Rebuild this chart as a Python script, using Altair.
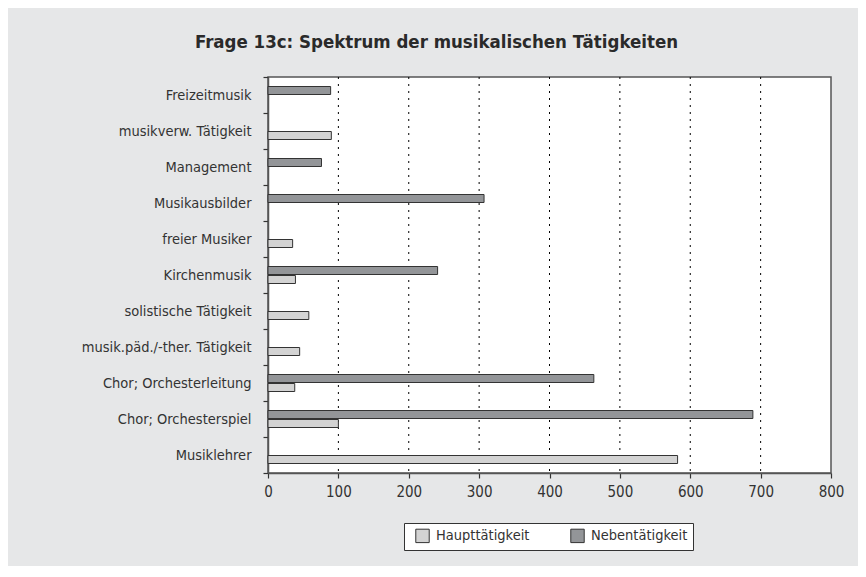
import altair as alt
import pandas as pd

categories = [
    "Freizeitmusik",
    "musikverw. Tätigkeit",
    "Management",
    "Musikausbilder",
    "freier Musiker",
    "Kirchenmusik",
    "solistische Tätigkeit",
    "musik.päd./-ther. Tätigkeit",
    "Chor; Orchesterleitung",
    "Chor; Orchesterspiel",
    "Musiklehrer",
]
haupt = [None, 90, None, None, 35, 39, 58, 45, 38, 100, 582]
neben = [89, None, 76, 307, None, 241, None, None, 463, 689, None]
series = ["Haupttätigkeit", "Nebentätigkeit"]
x_ticks = [0, 100, 200, 300, 400, 500, 600, 700, 800]
grid_lines = [100, 200, 300, 400, 500, 600, 700]

rows = []
for c, h, n in zip(categories, haupt, neben):
    if h is not None:
        rows.append({"Kategorie": c, "Art": series[0], "Wert": h})
    if n is not None:
        rows.append({"Kategorie": c, "Art": series[1], "Wert": n})
df = pd.DataFrame(rows)
grid_df = pd.DataFrame({"g": grid_lines})

FONT = "DejaVu Sans Condensed, Liberation Sans Narrow, DejaVu Sans, sans-serif"

x_scale = alt.Scale(domain=[0, 800], nice=False)

grid = (
    alt.Chart(grid_df)
    .mark_rule(color="#000000", strokeWidth=1, strokeDash=[2, 5])
    .encode(x=alt.X("g:Q", scale=x_scale))
)

bars = (
    alt.Chart(df)
    .mark_bar(stroke="#333333", strokeWidth=1, height=8)
    .encode(
        x=alt.X(
            "Wert:Q",
            scale=x_scale,
            axis=alt.Axis(
                values=x_ticks,
                title=None,
                grid=False,
                domainColor="#555555",
                domainWidth=1.5,
                tickColor="#333333",
                tickSize=5,
                tickWidth=1.2,
                labelFontSize=15,
                labelColor="#333333",
                labelPadding=6,
                labelFlush=False,
                labelFont=FONT,
            ),
        ),
        y=alt.Y(
            "Kategorie:N",
            sort=categories,
            scale=alt.Scale(domain=categories, paddingInner=0, paddingOuter=0),
            axis=alt.Axis(
                title=None,
                ticks=True,
                tickBand="extent",
                grid=False,
                domainColor="#555555",
                domainWidth=1.5,
                tickColor="#333333",
                tickSize=5,
                tickWidth=1.2,
                labelFontSize=14.5,
                labelColor="#333333",
                labelPadding=12,
                labelFont=FONT,
                labelLimit=300,
            ),
        ),
        yOffset=alt.YOffset(
            "Art:N",
            sort=["Nebentätigkeit", "Haupttätigkeit"],
            scale=alt.Scale(
                domain=["Nebentätigkeit", "Haupttätigkeit"],
                paddingInner=0,
                paddingOuter=1,
            ),
        ),
        color=alt.Color(
            "Art:N",
            scale=alt.Scale(domain=series, range=["#d3d3d3", "#939598"]),
            legend=alt.Legend(
                title=None,
                orient="none",
                direction="horizontal",
                legendX=136,
                legendY=446,
                fillColor="white",
                strokeColor="#333333",
                padding=5,
                symbolType="square",
                symbolSize=180,
                symbolStrokeColor="#333333",
                symbolStrokeWidth=1,
                symbolOffset=6,
                labelFontSize=14.5,
                labelColor="#333333",
                labelFont=FONT,
                columnPadding=34,
                labelOffset=6,
            ),
        ),
    )
)

chart = (
    alt.layer(grid, bars)
    .properties(
        width=563,
        height=396,
        background="#e6e7e8",
        padding={"left": 260, "top": 69, "right": 27, "bottom": 93},
        autosize=alt.AutoSizeParams(type="none"),
        title=alt.TitleParams(
            "Frage 13c: Spektrum der musikalischen Tätigkeiten",
            fontSize=18.5,
            fontWeight="bold",
            font=FONT,
            color="#2a2a2a",
            anchor="middle",
            dx=-113,
            offset=18,
        ),
    )
    .configure_view(stroke="#555555", strokeWidth=1.5, fill="white")
)

chart.save("out.html", embed_options={"renderer": "svg", "actions": False})
